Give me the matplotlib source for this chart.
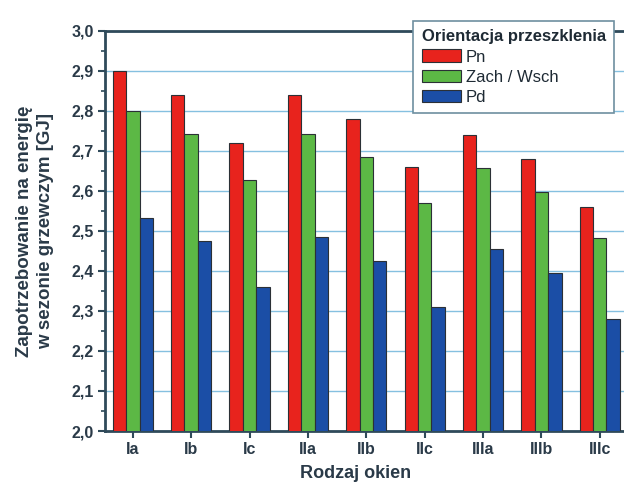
import numpy as np
import matplotlib
matplotlib.use("Agg")
import matplotlib.pyplot as plt
from matplotlib.ticker import MultipleLocator, FuncFormatter

# window types and heating-season energy demand [GJ] per glazing orientation
categories = ["Ia", "Ib", "Ic", "IIa", "IIb", "IIc", "IIIa", "IIIb", "IIIc"]
pn = [2.90, 2.84, 2.72, 2.84, 2.78, 2.66, 2.74, 2.68, 2.56]
zach_wsch = [2.80, 2.743, 2.628, 2.743, 2.686, 2.569, 2.658, 2.598, 2.482]
pd_ = [2.532, 2.475, 2.36, 2.484, 2.426, 2.311, 2.454, 2.396, 2.279]
series_names = ["Pn", "Zach / Wsch", "Pd"]

plt.rcParams['font.family'] = ['Liberation Sans', 'DejaVu Sans']
text_col = "#2a3a48"
spine_col = "#2f4a5a"

fig = plt.figure(figsize=(6.24, 4.84), dpi=100)
ax = fig.add_axes([0.168, 0.1095, 1.006 - 0.168, 0.936 - 0.1095])

x = np.arange(len(categories))
w = 0.23
colors = ["#e8231d", "#5cb845", "#1b4ea6"]
for i, (vals, name) in enumerate(zip([pn, zach_wsch, pd_], series_names)):
    ax.bar(x + (i - 1) * w, vals, width=w, color=colors[i], edgecolor="#2b3036",
           linewidth=0.8, label=name, zorder=3)

ax.set_ylim(2.0, 3.0)
ax.set_xlim(-0.48, 8.48)
ax.yaxis.set_major_locator(MultipleLocator(0.1))
ax.yaxis.set_minor_locator(MultipleLocator(0.05))
ax.yaxis.set_major_formatter(FuncFormatter(lambda v, p: f"{v:.1f}".replace(".", ",")))
ax.set_xticks(x)
ax.set_xticklabels(categories)

ax.grid(axis="y", color="#85c0e0", linewidth=1.0, zorder=0)
for s in ax.spines.values():
    s.set_color(spine_col)
    s.set_linewidth(2)

ax.tick_params(axis="both", which="major", direction="out", length=5, width=1.5,
               color=spine_col, labelcolor=text_col, labelsize=11.5, pad=3)
ax.tick_params(axis="y", which="minor", direction="out", length=3, width=1.2, color=spine_col)
for lab in ax.get_xticklabels() + ax.get_yticklabels():
    lab.set_fontweight("bold")

ax.set_ylabel("Zapotrzebowanie na energię\nw sezonie grzewczym [GJ]", fontsize=13.5,
              fontweight="bold", color=text_col, linespacing=1.25)
ax.yaxis.set_label_coords(-0.098, 0.5)
ax.set_xlabel("Rodzaj okien", fontsize=13, fontweight="bold", color=text_col)
ax.xaxis.set_label_coords(0.48, -0.085)

leg = ax.legend(title="Orientacja przeszklenia", loc="upper right",
                bbox_to_anchor=(614 / 624, (484 - 21) / 484), bbox_transform=fig.transFigure,
                fontsize=12, title_fontsize=12, handlelength=2.35, handleheight=0.8,
                handletextpad=0.3, labelspacing=0.3, borderpad=0.5, borderaxespad=0,
                fancybox=False, framealpha=1, edgecolor="#6e8fa0", alignment="left")
leg.get_title().set_fontweight("bold")
leg.get_title().set_color("#1e2a34")
leg.get_frame().set_linewidth(1.2)
leg.set_zorder(5)
for t in leg.get_texts():
    t.set_color("#1e2a34")

fig.savefig("out.png", dpi=100)
